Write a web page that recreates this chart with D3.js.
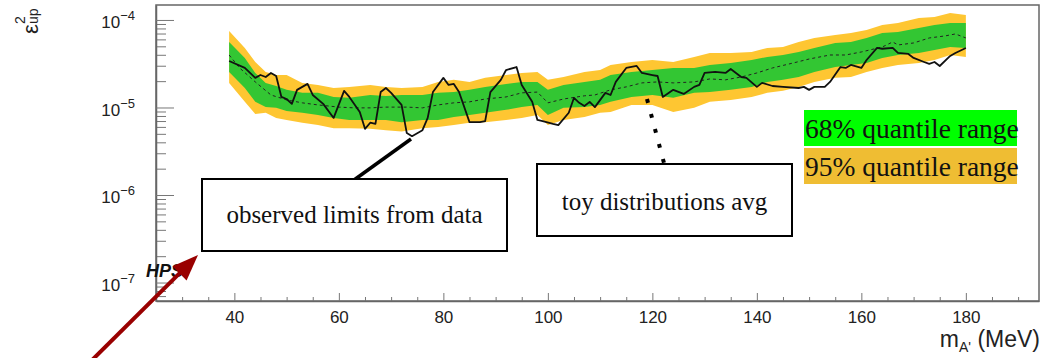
<!DOCTYPE html>
<html>
<head>
<meta charset="utf-8">
<script src="https://cdn.jsdelivr.net/npm/d3@7"></script>
<style>
    body { margin: 0; background: #fff; }
    svg { display: block; }
</style>
</head>
<body>
<svg></svg>
<script>
const wSvg = 1048, hSvg = 358;
const unit = 1e-5; // all limits below are in units of 1e-5

// observed limit
const obsMass = [39,42,44,45,46,47,48,49,50,51,52,54,55,57,59,61,62,64,65,66,67,68,69,70,72,73,74,76,77,78,80,81,82,83,85,87,88,89,91,92,94,95,97,98,99,101,102,104,105,106,107,108,109,111,112,113,115,117,118,120,121,122,124,126,128,129,130,132,134,135,137,138,140,141,143,145,148,149,150,151,153,154,156,157,158,160,161,163,164,166,167,169,170,172,173,174,175,177,178,180];
const obsLimit = [3.40,2.83,2.18,2.35,2.23,2.48,2.29,1.32,1.25,1.10,1.59,1.86,1.39,1.10,0.76,1.55,1.32,0.89,0.57,0.67,0.65,1.50,1.67,1.47,1.07,0.51,0.47,0.55,0.76,1.50,2.18,1.81,1.86,1.50,0.68,0.68,0.70,1.50,2.07,2.68,2.90,1.81,1.16,0.72,0.70,0.65,0.63,0.87,1.29,1.13,1.04,1.16,1.01,1.47,1.39,1.96,2.83,2.98,2.48,2.35,2.29,1.32,1.59,1.43,1.72,1.81,2.48,2.55,2.48,2.75,2.23,2.18,1.72,1.91,1.76,1.72,1.67,1.72,1.59,1.72,1.72,1.96,2.90,2.83,3.06,2.83,3.49,4.79,4.69,4.79,4.20,4.09,3.68,3.31,3.15,3.31,2.98,3.88,4.20,4.79];

// toy distributions average
const medMass = [39,41,44,47,50,53,56,60,63,66,69,73,76,79,82,85,88,92,95,98,100,103,107,109,112,115,118,121,124,128,131,134,137,140,143,147,150,154,157,160,164,166,167,170,173,176,178,180];
const medLimit = [3.98,2.83,1.96,1.39,1.22,1.13,1.07,1.01,0.99,0.99,1.01,1.01,0.99,1.07,1.13,1.16,1.25,1.32,1.47,1.50,1.13,1.25,1.36,1.39,1.59,1.72,1.91,1.96,1.91,1.96,2.12,2.07,2.23,2.48,2.83,3.23,3.58,3.98,3.98,4.31,4.91,5.61,5.18,5.46,6.23,6.57,6.92,6.23];

// quantile bands
const bandMass = [39,42,44,46,48,50,53,56,59,62,66,69,72,76,79,82,85,88,92,95,98,100,103,107,110,112,116,120,124,128,131,135,139,142,145,148,151,155,158,161,164,167,171,174,177,180];
const band95Hi = [7.49,4.79,3.31,2.55,2.35,2.35,1.91,1.81,1.67,1.72,1.81,1.72,1.67,1.72,1.96,2.07,1.96,2.18,2.35,2.48,2.55,2.07,2.23,2.55,2.68,3.06,3.31,3.49,3.31,3.78,4.20,4.20,4.31,4.79,4.91,5.61,6.23,6.74,7.10,7.69,8.77,9.24,10.5,10.8,12.0,11.4];
const band68Hi = [5.61,3.68,2.48,1.91,1.76,1.59,1.47,1.47,1.32,1.29,1.39,1.35,1.39,1.39,1.47,1.50,1.59,1.72,1.86,1.96,1.96,1.59,1.81,1.96,2.07,2.35,2.55,2.68,2.83,2.83,3.06,3.23,3.49,3.78,3.98,4.31,4.79,5.46,5.61,6.23,7.10,7.29,8.10,8.77,9.24,9.24];
const band68Lo = [2.55,1.67,1.16,1.01,0.99,0.91,0.87,0.82,0.76,0.72,0.72,0.72,0.68,0.72,0.72,0.78,0.82,0.87,0.94,1.01,1.07,0.82,0.99,1.01,1.07,1.16,1.32,1.39,1.29,1.47,1.50,1.59,1.72,1.96,2.07,2.23,2.55,2.90,3.06,3.23,3.68,3.98,4.20,4.54,4.91,4.79];
const band95Lo = [1.91,1.16,0.84,0.87,0.76,0.72,0.67,0.63,0.58,0.58,0.57,0.55,0.53,0.58,0.60,0.63,0.67,0.68,0.72,0.76,0.82,0.63,0.72,0.78,0.87,0.89,1.07,1.07,0.89,0.99,1.16,1.22,1.32,1.47,1.55,1.72,1.96,2.18,2.23,2.55,2.83,3.06,3.23,3.49,3.98,3.78];

// axis ticks
const xMajor = [40, 60, 80, 100, 120, 140, 160, 180];
const yMajorExp = [-7, -6, -5, -4];

const legendItems = [
    { label: "68% quantile range", color: "#00ff00" },
    { label: "95% quantile range", color: "#efbd33" }
];

const frame = { left: 156, right: 1039, top: 5, bottom: 301 };
const sansFont = "'Liberation Sans', Arial, sans-serif";
const serifFont = "'Liberation Serif', 'Times New Roman', serif";

const svg = d3.select("svg")
    .attr("width", wSvg)
    .attr("height", hSvg)
;

const x = d3.scaleLinear()
    .domain([25, 194])
    .range([frame.left, frame.right]);

const y = d3.scaleLog()
    .domain([Math.pow(10, -7.211), Math.pow(10, -3.829)])
    .range([frame.bottom, frame.top]);

const bands = bandMass.map((m, i) => ({
    m: m,
    hi95: band95Hi[i] * unit, lo95: band95Lo[i] * unit,
    hi68: band68Hi[i] * unit, lo68: band68Lo[i] * unit
}));
const obs = obsMass.map((m, i) => ({ m: m, v: obsLimit[i] * unit }));
const med = medMass.map((m, i) => ({ m: m, v: medLimit[i] * unit }));

// bands
svg.append("path")
    .datum(bands)
    .attr("fill", "#fec632")
    .attr("d", d3.area().x(d => x(d.m)).y0(d => y(d.lo95)).y1(d => y(d.hi95)));

svg.append("path")
    .datum(bands)
    .attr("fill", "#33c633")
    .attr("d", d3.area().x(d => x(d.m)).y0(d => y(d.lo68)).y1(d => y(d.hi68)));

const line = d3.line().x(d => x(d.m)).y(d => y(d.v));

svg.append("path")
    .datum(med)
    .attr("fill", "none")
    .attr("stroke", "#222")
    .attr("stroke-width", 1)
    .attr("stroke-dasharray", "3 3")
    .attr("d", line);

svg.append("path")
    .datum(obs)
    .attr("fill", "none")
    .attr("stroke", "#111")
    .attr("stroke-width", 1.8)
    .attr("stroke-linejoin", "round")
    .attr("d", line);

// frame
svg.append("rect")
    .attr("x", frame.left)
    .attr("y", frame.top)
    .attr("width", frame.right - frame.left)
    .attr("height", frame.bottom - frame.top)
    .attr("fill", "none")
    .attr("stroke", "#666")
    .attr("stroke-width", 1.5);

// x axis
const xMinor = d3.range(30, 194, 5).filter(v => !xMajor.includes(v));

svg.append("g")
    .attr("transform", `translate(0,${frame.bottom})`)
    .call(d3.axisBottom(x).tickValues(xMinor).tickSize(-4).tickSizeOuter(0).tickFormat(""))
    .call(g => g.select(".domain").remove())
    .call(g => g.selectAll("line").attr("stroke", "#777"));

svg.append("g")
    .attr("transform", `translate(0,${frame.bottom})`)
    .call(d3.axisBottom(x).tickValues(xMajor).tickSize(-8).tickSizeOuter(0).tickPadding(10))
    .call(g => g.select(".domain").attr("stroke", "#666").attr("stroke-width", 1.5))
    .call(g => g.selectAll("line").attr("stroke", "#777"))
    .call(g => g.selectAll("text")
        .attr("font-family", sansFont)
        .attr("font-size", 17)
        .attr("fill", "#222"));

// y axis
const yMinor = [];
for (let e = -8; e <= -4; e++) {
    for (let k = 2; k <= 9; k++) {
        const v = k * Math.pow(10, e);
        if (v >= y.domain()[0] && v <= y.domain()[1]) yMinor.push(v);
    }
}

svg.append("g")
    .attr("transform", `translate(${frame.left},0)`)
    .call(d3.axisLeft(y).tickValues(yMinor).tickSize(-10).tickSizeOuter(0).tickFormat(""))
    .call(g => g.select(".domain").remove())
    .call(g => g.selectAll("line").attr("stroke", "#777"));

const yAxisG = svg.append("g")
    .attr("transform", `translate(${frame.left},0)`)
    .call(d3.axisLeft(y).tickValues(yMajorExp.map(e => Math.pow(10, e)))
        .tickSize(-18).tickSizeOuter(0).tickPadding(21).tickFormat(""))
    .call(g => g.select(".domain").attr("stroke", "#666").attr("stroke-width", 1.5))
    .call(g => g.selectAll("line").attr("stroke", "#777"));

yAxisG.selectAll(".tick text")
    .attr("font-family", sansFont)
    .attr("font-size", 17)
    .attr("fill", "#222")
    .attr("dy", "0.45em")
    .each(function (d) {
        const t = d3.select(this);
        t.append("tspan").text("10");
        t.append("tspan")
            .attr("font-size", 13)
            .attr("dy", -8)
            .text("\u2212" + Math.abs(Math.round(Math.log10(d))));
    });

// axis titles
svg.append("text")
    .attr("x", 1040)
    .attr("y", 347)
    .attr("text-anchor", "end")
    .attr("font-family", sansFont)
    .attr("font-size", 23)
    .attr("fill", "#222")
    .call(t => {
        t.append("tspan").text("m");
        t.append("tspan").attr("font-size", 14).attr("dy", 5).text("A'");
        t.append("tspan").attr("dy", -5).text(" (MeV)");
    });

const yTitle = svg.append("g")
    .attr("transform", "translate(38,34) rotate(-90)")
    .attr("font-family", sansFont)
    .attr("fill", "#222");
yTitle.append("text").attr("font-size", 22).text("\u03b5");
yTitle.append("text").attr("x", 10).attr("y", -13).attr("font-size", 14).text("2");
yTitle.append("text").attr("x", 10).attr("y", 0).attr("font-size", 14).text("up");

// HPS label
svg.append("text")
    .attr("x", 146)
    .attr("y", 277)
    .attr("font-family", sansFont)
    .attr("font-size", 18)
    .attr("font-weight", "bold")
    .attr("font-style", "italic")
    .attr("fill", "#111")
    .text("HPS");

// annotation boxes
const boxes = [
    { text: "observed limits from data", x0: 202, y0: 179, x1: 507, y1: 251, ty: 223 },
    { text: "toy distributions avg", x0: 537, y0: 164, x1: 792, y1: 236, ty: 210 }
];

svg.append("line")
    .attr("x1", 354).attr("y1", 180)
    .attr("x2", 411).attr("y2", 139)
    .attr("stroke", "#000")
    .attr("stroke-width", 3.5);

svg.append("line")
    .attr("x1", 647).attr("y1", 99)
    .attr("x2", 664).attr("y2", 163)
    .attr("stroke", "#000")
    .attr("stroke-width", 4)
    .attr("stroke-dasharray", "4 11.5");

const boxG = svg.selectAll("g.box")
    .data(boxes)
    .enter()
    .append("g")
    .classed("box", true);

boxG.append("rect")
    .attr("x", d => d.x0)
    .attr("y", d => d.y0)
    .attr("width", d => d.x1 - d.x0)
    .attr("height", d => d.y1 - d.y0)
    .attr("fill", "#fff")
    .attr("stroke", "#000")
    .attr("stroke-width", 2);

boxG.append("text")
    .attr("x", d => (d.x0 + d.x1) / 2)
    .attr("y", d => d.ty)
    .attr("text-anchor", "middle")
    .attr("font-family", serifFont)
    .attr("font-size", 25)
    .attr("fill", "#111")
    .text(d => d.text);

// legend
const legend = svg.selectAll("g.legend")
    .data(legendItems)
    .enter()
    .append("g")
    .classed("legend", true)
    .attr("transform", (d, i) => `translate(804,${110 + i * 38})`);

legend.append("rect")
    .attr("width", 213)
    .attr("height", 36)
    .attr("fill", d => d.color);

legend.append("text")
    .attr("x", 1)
    .attr("y", 28)
    .attr("font-family", serifFont)
    .attr("font-size", 27.5)
    .attr("fill", "#111")
    .text(d => d.label);

// arrow
const tip = [198, 255], tail = [78, 374];
const len = Math.hypot(tip[0] - tail[0], tip[1] - tail[1]);
const ux = (tip[0] - tail[0]) / len, uy = (tip[1] - tail[1]) / len;
const headLen = 26, headHalf = 10;
const bx = tip[0] - headLen * ux, by = tip[1] - headLen * uy;

svg.append("line")
    .attr("x1", tail[0]).attr("y1", tail[1])
    .attr("x2", bx + 2 * ux).attr("y2", by + 2 * uy)
    .attr("stroke", "#990000")
    .attr("stroke-width", 4);

svg.append("path")
    .attr("fill", "#990000")
    .attr("d", `M${tip[0]},${tip[1]}L${bx - headHalf * uy},${by + headHalf * ux}L${bx + headHalf * uy},${by - headHalf * ux}Z`);
</script>
</body>
</html>
